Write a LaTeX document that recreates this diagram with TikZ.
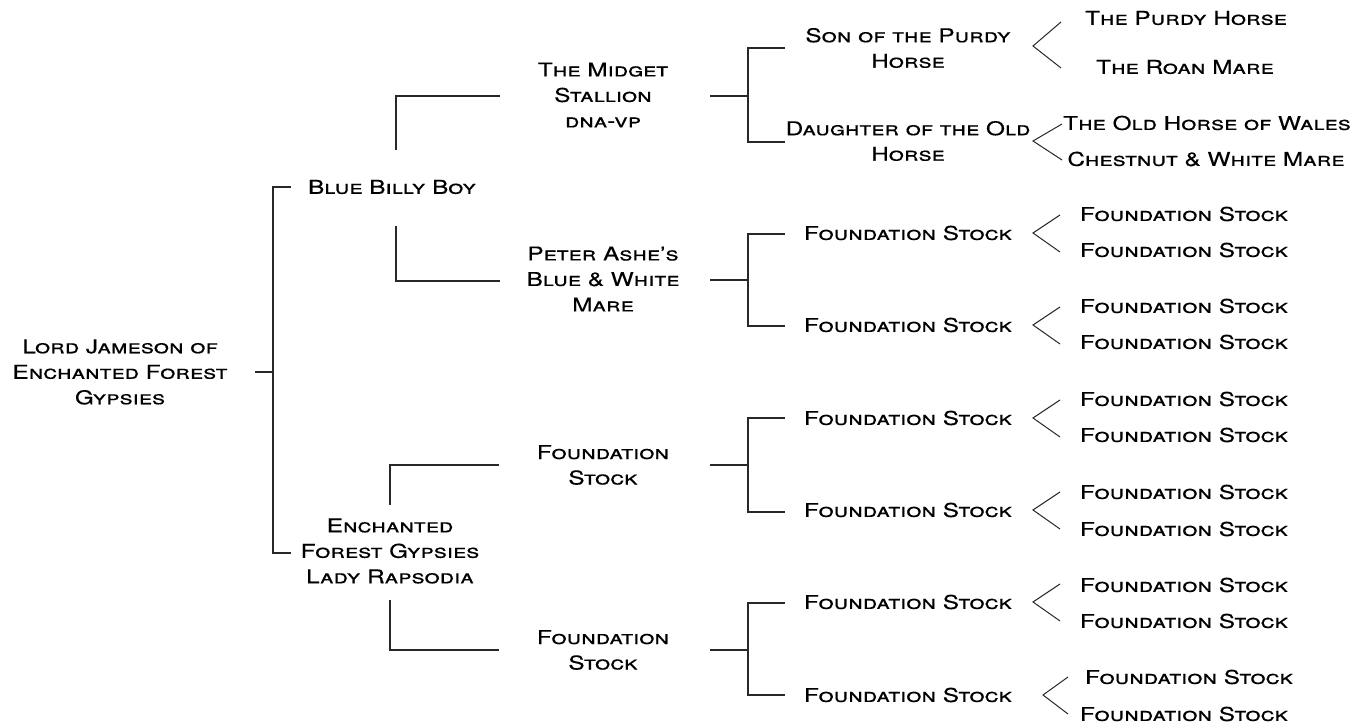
\documentclass[tikz,border=0pt]{standalone}
\usepackage{fontspec}
\setmainfont{TeX Gyre Heros}[FakeStretch=1.28, FakeBold=0.4]
\usepackage{tikz}
\usetikzlibrary{calc}
\definecolor{linegray}{RGB}{40,40,40}
\newcommand{\forkline}{\draw[line width=0.5pt, linegray]}

\begin{document}
\begin{tikzpicture}[x=0.5pt, y=-0.5pt,
    horse/.style={align=center, inner sep=0pt, font=\fontsize{9.5}{12.75}\selectfont\scshape},
    link/.style={line width=0.8pt, linegray}]
    \useasboundingbox (0,0) rectangle (1354,726);

    % Generation 0 and 1
    \node[horse] (lord) at (120,372) {Lord Jameson of\\Enchanted Forest\\Gypsies};
    \node[horse] (billy) at (392,187) {Blue Billy Boy};
    \node[horse] (lady) at (390,551) {Enchanted\\Forest Gypsies\\Lady Rapsodia};

    % Generation 2
    \node[horse] (midget) at (603,95) {The Midget\\Stallion\\dna-vp};
    \node[horse] (ashe) at (603,279) {Peter Ashe's\\Blue \& White\\Mare};
    \node[horse] (found1) at (603,465) {Foundation\\Stock};
    \node[horse] (found2) at (603,650) {Foundation\\Stock};

    % Generation 3
    \node[horse] (son) at (908,48) {Son of the Purdy\\Horse};
    \node[horse] (daughter) at (908,141) {Daughter of the Old\\Horse};
    \foreach \y [count=\i] in {233,325,418,510,602,695} {
        \node[horse] (stock\i) at (908,\y) {Foundation Stock};
    }

    % Generation 4
    \node[horse] (purdy) at (1186,18) {The Purdy Horse};
    \node[horse] (roan) at (1185,67) {The Roan Mare};
    \node[horse] (wales) at (1207,123) {The Old Horse of Wales};
    \node[horse] (chestnut) at (1206,159) {Chestnut \& White Mare};
    \foreach \x/\y [count=\i] in {1184/214,1184/250,1184/306,1184/342,1184/399,1184/435,
                                  1184/492,1184/529,1184/585,1184/621,1189/677,1184/714} {
        \node[horse] (leaf\i) at (\x,\y) {Foundation Stock};
    }

    % Brackets
    \coordinate (j0) at (273,372);
    \draw[link] (255,372) -- (j0);
    \draw[link] (291,187) -| (j0) |- (291,553);

    \draw[link] (396,150) |- (500,96);
    \draw[link] (396,226) |- (500,281);
    \draw[link] (390,505) |- (499,465);
    \draw[link] (390,600) |- (499,650);

    \foreach \ym/\yt/\yb in {96/48/142, 280/234/326, 465/418/512, 650/603/695} {
        \coordinate (j) at (748,\ym);
        \draw[link] (710,\ym) -- (j);
        \draw[link] (785,\yt) -| (j) |- (785,\yb);
    }

    % Forks to the last generation
    \forkline (1061,22) -- (1033,46) -- (1061,68);
    \forkline (1062,124) -- (1033,141) -- (1062,160);
    \foreach \y in {233,325,418,510,602} {
        \forkline (1060,\y-18) -- (1033,\y) -- (1060,\y+19);
    }
    \forkline (1068,677) -- (1043,695) -- (1068,714);
\end{tikzpicture}
\end{document}
